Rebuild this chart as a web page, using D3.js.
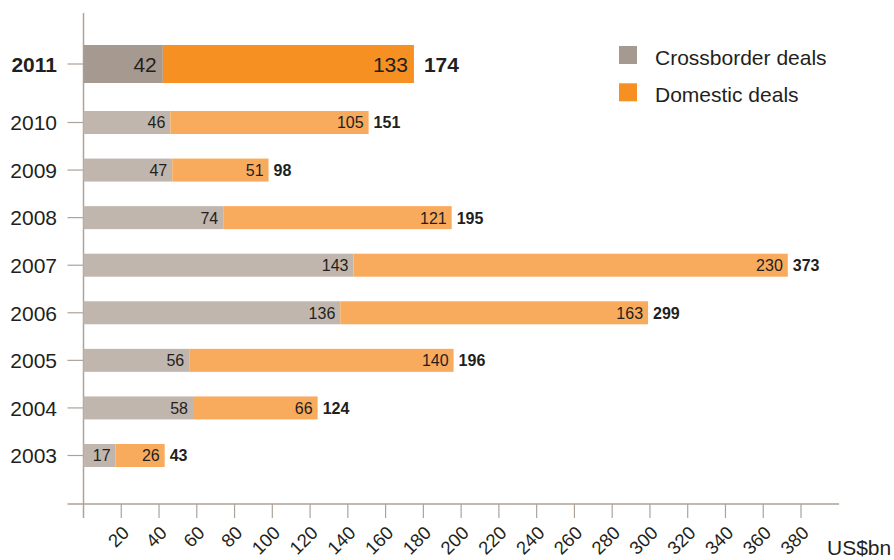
<!DOCTYPE html>
<html lang="en">
<head>
  <meta charset="UTF-8">
  <title>Deals by year</title>
  <script src="https://d3js.org/d3.v7.min.js"></script>
  <style>
    body { margin: 0; background: #fff; font-family: "Liberation Sans", Arial, sans-serif; }
    svg text { fill: #231f20; }
  </style>
</head>
<body>
  <div id="chart"></div>

  <script>
    // Data (US$bn)
    const years       = [2003, 2004, 2005, 2006, 2007, 2008, 2009, 2010, 2011];
    const crossborder = [17, 58, 56, 136, 143, 74, 47, 46, 42];
    const domestic    = [26, 66, 140, 163, 230, 121, 51, 105, 133];
    const totals      = [43, 124, 196, 299, 373, 195, 98, 151, 174];
    const xTicks      = [20, 40, 60, 80, 100, 120, 140, 160, 180, 200, 220, 240, 260, 280, 300, 320, 340, 360, 380];
    const seriesNames = ["Crossborder deals", "Domestic deals"];
    const highlightYear = 2011;

    const rows = years.map((year, i) => ({
      year, cross: crossborder[i], dom: domestic[i], total: totals[i]
    }));

    const W = 894, H = 560;
    const colors = {
      cross: "#c1b6ad", dom: "#f9ab5d",
      crossHi: "#a69a90", domHi: "#f69022",
      axis: "#aea297"
    };

    const svg = d3.select("#chart")
                  .append("svg")
                  .attr("width", W)
                  .attr("height", H);

    // x scale (US$bn)
    const x = d3.scaleLinear()
                .domain([0, 380])
                .range([83.5, 801]);

    // y scale: regular rows, 2011 sits on its own a bit higher
    const y = d3.scaleLinear()
                .domain([2003, 2010])
                .range([455.5, 122.5]);
    const rowY = yr => yr === highlightYear ? y(2010) - 58.5 : y(yr);
    const barH = yr => yr === highlightYear ? 38 : 23;

    const axisY = 504;

    // axes lines
    svg.append("line")
       .attr("x1", x(0)).attr("x2", x(0))
       .attr("y1", 13).attr("y2", axisY + 14)
       .attr("stroke", colors.axis).attr("stroke-width", 1.5);

    svg.append("line")
       .attr("x1", x(0) - 16).attr("x2", 839)
       .attr("y1", axisY).attr("y2", axisY)
       .attr("stroke", colors.axis).attr("stroke-width", 1.5);

    // x ticks
    const xt = svg.append("g");
    xt.selectAll("line")
      .data(xTicks)
      .join("line")
      .attr("x1", d => x(d)).attr("x2", d => x(d))
      .attr("y1", axisY).attr("y2", axisY + 14)
      .attr("stroke", colors.axis).attr("stroke-width", 1.2);

    xt.selectAll("text")
      .data(xTicks)
      .join("text")
      .attr("transform", d => `translate(${x(d) + 9}, 534) rotate(-45)`)
      .attr("text-anchor", "end")
      .style("font-size", "18.5px")
      .text(d => d);

    svg.append("text")
       .attr("x", 827)
       .attr("y", 555)
       .style("font-size", "21px")
       .text("US$bn");

    // y ticks + year labels
    const yg = svg.append("g");
    yg.selectAll("line")
      .data(rows)
      .join("line")
      .attr("x1", x(0) - 16).attr("x2", x(0))
      .attr("y1", d => rowY(d.year)).attr("y2", d => rowY(d.year))
      .attr("stroke", colors.axis).attr("stroke-width", 1.2);

    yg.selectAll("text")
      .data(rows)
      .join("text")
      .attr("x", 57)
      .attr("y", d => rowY(d.year))
      .attr("dy", "0.37em")
      .attr("text-anchor", "end")
      .style("font-size", "21px")
      .style("font-weight", d => d.year === highlightYear ? "bold" : "normal")
      .text(d => d.year);

    // bars
    const bars = svg.append("g");
    const hi = d => d.year === highlightYear;

    bars.selectAll("rect.cross")
        .data(rows)
        .join("rect")
        .attr("class", "cross")
        .attr("x", x(0))
        .attr("y", d => rowY(d.year) - barH(d.year) / 2)
        .attr("width", d => x(d.cross) - x(0))
        .attr("height", d => barH(d.year))
        .attr("fill", d => hi(d) ? colors.crossHi : colors.cross);

    bars.selectAll("rect.dom")
        .data(rows)
        .join("rect")
        .attr("class", "dom")
        .attr("x", d => x(d.cross))
        .attr("y", d => rowY(d.year) - barH(d.year) / 2)
        .attr("width", d => x(d.cross + d.dom) - x(d.cross))
        .attr("height", d => barH(d.year))
        .attr("fill", d => hi(d) ? colors.domHi : colors.dom);

    // value labels
    const fs = d => hi(d) ? "21px" : "16px";

    bars.selectAll("text.crossLbl")
        .data(rows)
        .join("text")
        .attr("class", "crossLbl")
        .attr("x", d => x(d.cross) - (hi(d) ? 6 : 5))
        .attr("y", d => rowY(d.year))
        .attr("dy", "0.37em")
        .attr("text-anchor", "end")
        .style("font-size", fs)
        .text(d => d.cross);

    bars.selectAll("text.domLbl")
        .data(rows)
        .join("text")
        .attr("class", "domLbl")
        .attr("x", d => x(d.cross + d.dom) - (hi(d) ? 6 : 5))
        .attr("y", d => rowY(d.year))
        .attr("dy", "0.37em")
        .attr("text-anchor", "end")
        .style("font-size", fs)
        .text(d => d.dom);

    bars.selectAll("text.totLbl")
        .data(rows)
        .join("text")
        .attr("class", "totLbl")
        .attr("x", d => x(d.cross + d.dom) + (hi(d) ? 10 : 5))
        .attr("y", d => rowY(d.year))
        .attr("dy", "0.37em")
        .style("font-size", fs)
        .style("font-weight", "bold")
        .text(d => d.total);

    // legend
    const legend = svg.append("g").attr("transform", "translate(619, 46)");
    const lg = legend.selectAll("g")
                     .data(seriesNames)
                     .join("g")
                     .attr("transform", (d, i) => `translate(0, ${i * 37.3})`);
    lg.append("rect")
      .attr("width", 18).attr("height", 18)
      .attr("fill", (d, i) => i === 0 ? colors.crossHi : colors.domHi);
    lg.append("text")
      .attr("x", 36)
      .attr("y", 18.5)
      .style("font-size", "21px")
      .text(d => d);
  </script>
</body>
</html>
